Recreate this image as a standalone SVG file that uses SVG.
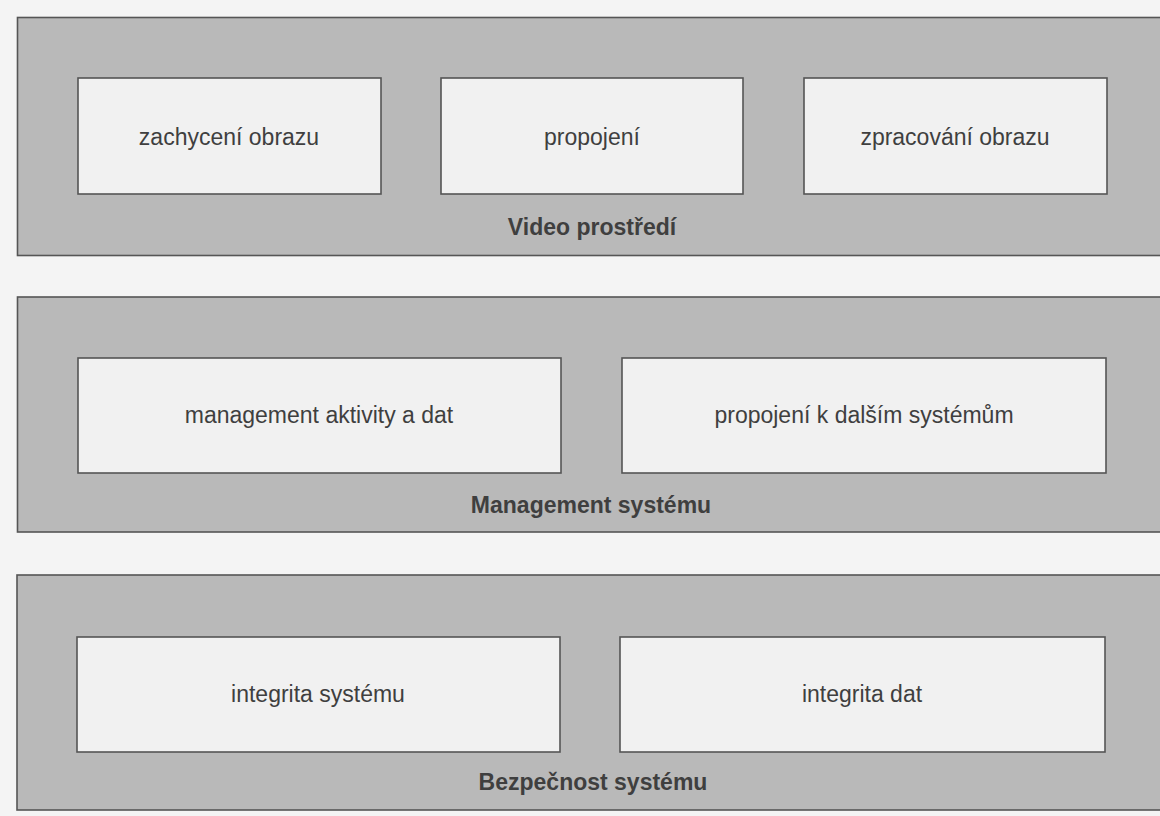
<svg xmlns="http://www.w3.org/2000/svg" width="1160" height="816" viewBox="0 0 1160 816">
<style>
.band{fill:#b9b9b9;stroke:#555;stroke-width:1.6}
.box{fill:#f1f1f1;stroke:#555;stroke-width:1.6}
.t{font-family:"Liberation Sans",Arial,sans-serif;font-size:23px;fill:#3f3f3f;text-anchor:middle}
.lb{font-family:"Liberation Sans",Arial,sans-serif;font-size:23px;font-weight:bold;fill:#3f3f3f;text-anchor:middle}
</style>
<rect width="1160" height="816" fill="#f4f4f4"/>
<g id="video">
<rect class="band" x="17.5" y="17.5" width="1150" height="238"/>
<text class="lb" x="592" y="235">Video prostředí</text>
</g>
<g id="zachyceni"><rect class="box" x="78" y="78" width="303" height="116"/><text class="t" x="229" y="145">zachycení obrazu</text></g>
<g id="propojeni"><rect class="box" x="441" y="78" width="302" height="116"/><text class="t" x="592" y="145">propojení</text></g>
<g id="zpracovani"><rect class="box" x="804" y="78" width="303" height="116"/><text class="t" x="955" y="145">zpracování obrazu</text></g>
<g id="management">
<rect class="band" x="17.5" y="297" width="1150" height="235"/>
<text class="lb" x="591" y="513">Management systému</text>
</g>
<g id="mgmt-aktivity"><rect class="box" x="78" y="358" width="483" height="115"/><text class="t" x="319" y="423">management aktivity a dat</text></g>
<g id="propojeni-k"><rect class="box" x="622" y="358" width="484" height="115"/><text class="t" x="864" y="423">propojení k dalším systémům</text></g>
<g id="bezpecnost">
<rect class="band" x="17" y="575" width="1150" height="235"/>
<text class="lb" x="593" y="790">Bezpečnost systému</text>
</g>
<g id="integrita-systemu"><rect class="box" x="77" y="637" width="483" height="115"/><text class="t" x="318" y="702">integrita systému</text></g>
<g id="integrita-dat"><rect class="box" x="620" y="637" width="485" height="115"/><text class="t" x="862" y="702">integrita dat</text></g>
<g id="connectors"/>
</svg>
